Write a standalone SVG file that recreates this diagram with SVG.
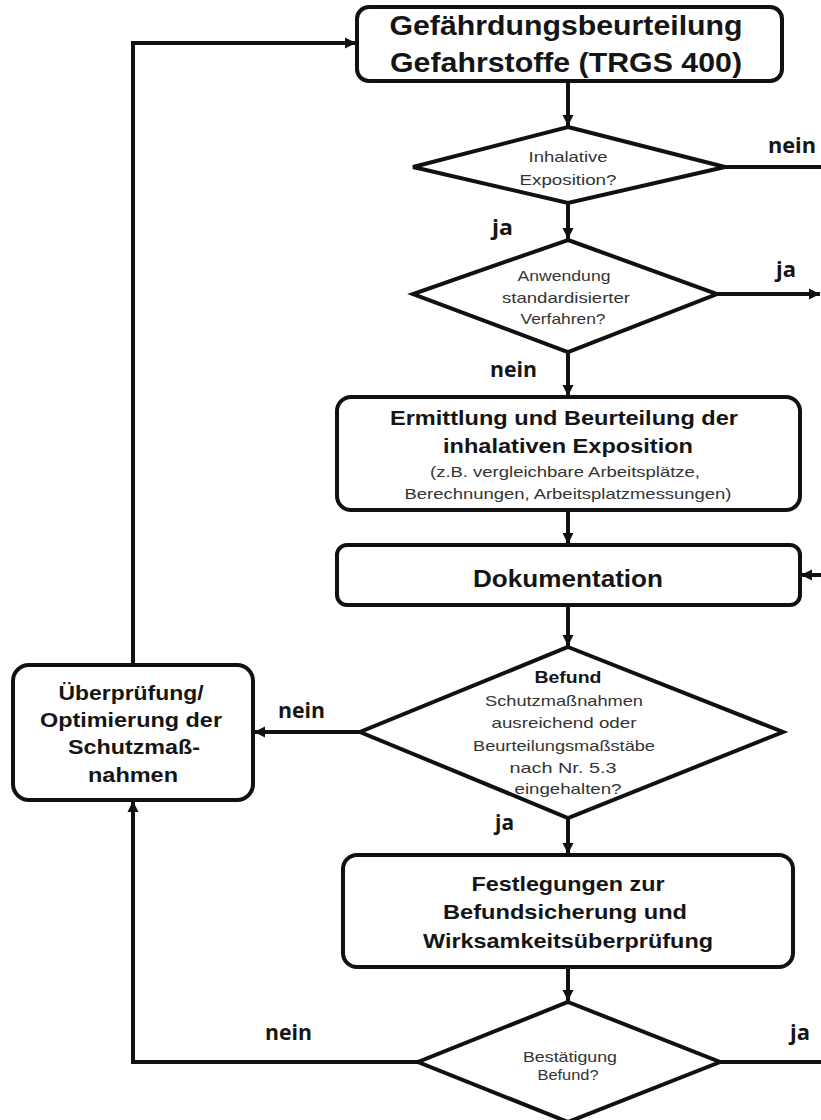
<svg xmlns="http://www.w3.org/2000/svg" width="821" height="1120" viewBox="0 0 821 1120">
<style>
.box{fill:#fff;stroke:#111;stroke-width:4}
.dia{fill:#fff;stroke:#111;stroke-width:4;stroke-linejoin:miter}
.con{fill:none;stroke:#111;stroke-width:4}
.b{font-family:"Liberation Sans",Arial,sans-serif;font-weight:bold;fill:#151515;text-anchor:middle}
.r{font-family:"Liberation Sans",Arial,sans-serif;fill:#333;text-anchor:middle;font-size:15px}
.lbl{font-family:"Open Sans","Liberation Sans",sans-serif;font-weight:bold;fill:#151515;font-size:21px}
</style>
<defs>
<marker id="ah" markerUnits="userSpaceOnUse" markerWidth="12" markerHeight="12" refX="11" refY="6" orient="auto">
<path d="M0,0.5 L11,6 L0,11.5 z" fill="#111"/>
</marker>
</defs>
<rect width="821" height="1120" fill="#fff"/>

<g id="connectors">
<line class="con" x1="568" y1="81" x2="568" y2="126" marker-end="url(#ah)"/>
<line class="con" x1="725" y1="167" x2="821" y2="167"/>
<line class="con" x1="568" y1="203" x2="568" y2="239" marker-end="url(#ah)"/>
<line class="con" x1="717" y1="294" x2="820" y2="294" marker-end="url(#ah)"/>
<line class="con" x1="568" y1="352" x2="568" y2="396" marker-end="url(#ah)"/>
<line class="con" x1="568" y1="510" x2="568" y2="544" marker-end="url(#ah)"/>
<line class="con" x1="821" y1="575" x2="801" y2="575" marker-end="url(#ah)"/>
<line class="con" x1="568" y1="605" x2="568" y2="646" marker-end="url(#ah)"/>
<line class="con" x1="360" y1="732" x2="254" y2="732" marker-end="url(#ah)"/>
<line class="con" x1="568" y1="818" x2="568" y2="854" marker-end="url(#ah)"/>
<line class="con" x1="568" y1="967" x2="568" y2="1001" marker-end="url(#ah)"/>
<polyline class="con" points="418,1062 133,1062 133,801" marker-end="url(#ah)"/>
<polyline class="con" points="133,665 133,43 356,43" marker-end="url(#ah)"/>
<line class="con" x1="720" y1="1062" x2="821" y2="1062"/>
</g>

<g id="start">
<rect class="box" x="357" y="7" width="425" height="74" rx="12"/>
<text class="b" x="566" y="35" font-size="28" textLength="353" lengthAdjust="spacingAndGlyphs">Gefährdungsbeurteilung</text>
<text class="b" x="566" y="72" font-size="28" textLength="352" lengthAdjust="spacingAndGlyphs">Gefahrstoffe (TRGS 400)</text>
</g>

<g id="d1">
<polygon class="dia" points="568,127 725,167 568,203 413,167"/>
<text class="r" x="568" y="162" textLength="79" lengthAdjust="spacingAndGlyphs">Inhalative</text>
<text class="r" x="568" y="185" textLength="97" lengthAdjust="spacingAndGlyphs">Exposition?</text>
</g>

<g id="d2">
<polygon class="dia" points="568,240 717,294 568,352 413,294"/>
<text class="r" x="564" y="281" textLength="93" lengthAdjust="spacingAndGlyphs">Anwendung</text>
<text class="r" x="566" y="303" textLength="128" lengthAdjust="spacingAndGlyphs">standardisierter</text>
<text class="r" x="563" y="324" textLength="85" lengthAdjust="spacingAndGlyphs">Verfahren?</text>
</g>

<g id="ermittlung">
<rect class="box" x="337" y="397" width="463" height="113" rx="14"/>
<text class="b" x="564" y="425" font-size="20" textLength="348" lengthAdjust="spacingAndGlyphs">Ermittlung und Beurteilung der</text>
<text class="b" x="568" y="453" font-size="20" textLength="250" lengthAdjust="spacingAndGlyphs">inhalativen Exposition</text>
<text class="r" x="565" y="477" textLength="270" lengthAdjust="spacingAndGlyphs">(z.B. vergleichbare Arbeitsplätze,</text>
<text class="r" x="568" y="499" textLength="327" lengthAdjust="spacingAndGlyphs">Berechnungen, Arbeitsplatzmessungen)</text>
</g>

<g id="dokumentation">
<rect class="box" x="337" y="545" width="463" height="60" rx="10"/>
<text class="b" x="568" y="587" font-size="24" textLength="190" lengthAdjust="spacingAndGlyphs">Dokumentation</text>
</g>

<g id="d3">
<polygon class="dia" points="568,647 783,732 568,818 360,732"/>
<text class="b" x="568" y="683" font-size="16" textLength="67" lengthAdjust="spacingAndGlyphs">Befund</text>
<text class="r" x="564" y="706" textLength="158" lengthAdjust="spacingAndGlyphs">Schutzmaßnahmen</text>
<text class="r" x="564" y="728" textLength="145" lengthAdjust="spacingAndGlyphs">ausreichend  oder</text>
<text class="r" x="564" y="751" textLength="182" lengthAdjust="spacingAndGlyphs">Beurteilungsmaßstäbe</text>
<text class="r" x="563" y="773" textLength="107" lengthAdjust="spacingAndGlyphs">nach  Nr. 5.3</text>
<text class="r" x="568" y="794" textLength="107" lengthAdjust="spacingAndGlyphs">eingehalten?</text>
</g>

<g id="ueberpruefung">
<rect class="box" x="13" y="665" width="240" height="135" rx="16"/>
<text class="b" x="131" y="700" font-size="21" textLength="145" lengthAdjust="spacingAndGlyphs">Überprüfung/</text>
<text class="b" x="131" y="727" font-size="21" textLength="182" lengthAdjust="spacingAndGlyphs">Optimierung der</text>
<text class="b" x="134" y="754" font-size="21" textLength="132" lengthAdjust="spacingAndGlyphs">Schutzmaß-</text>
<text class="b" x="133" y="782" font-size="21" textLength="90" lengthAdjust="spacingAndGlyphs">nahmen</text>
</g>

<g id="festlegungen">
<rect class="box" x="343" y="855" width="450" height="112" rx="14"/>
<text class="b" x="568" y="891" font-size="21" textLength="193" lengthAdjust="spacingAndGlyphs">Festlegungen zur</text>
<text class="b" x="565" y="919" font-size="21" textLength="244" lengthAdjust="spacingAndGlyphs">Befundsicherung und</text>
<text class="b" x="568" y="948" font-size="21" textLength="290" lengthAdjust="spacingAndGlyphs">Wirksamkeitsüberprüfung</text>
</g>

<g id="d4">
<polygon class="dia" points="568,1002 720,1062 568,1122 418,1062"/>
<text class="r" x="570" y="1062" textLength="94" lengthAdjust="spacingAndGlyphs">Bestätigung</text>
<text class="r" x="568" y="1080" textLength="61" lengthAdjust="spacingAndGlyphs">Befund?</text>
</g>

<g id="labels">
<text class="lbl" x="768" y="153" textLength="48" lengthAdjust="spacingAndGlyphs">nein</text>
<text class="lbl" x="492" y="235" textLength="21" lengthAdjust="spacingAndGlyphs">ja</text>
<text class="lbl" x="776" y="277" textLength="20" lengthAdjust="spacingAndGlyphs">ja</text>
<text class="lbl" x="490" y="377" textLength="47" lengthAdjust="spacingAndGlyphs">nein</text>
<text class="lbl" x="278" y="718" textLength="47" lengthAdjust="spacingAndGlyphs">nein</text>
<text class="lbl" x="495" y="830" textLength="19" lengthAdjust="spacingAndGlyphs">ja</text>
<text class="lbl" x="265" y="1040" textLength="47" lengthAdjust="spacingAndGlyphs">nein</text>
<text class="lbl" x="790" y="1040" textLength="20" lengthAdjust="spacingAndGlyphs">ja</text>
</g>
</svg>
